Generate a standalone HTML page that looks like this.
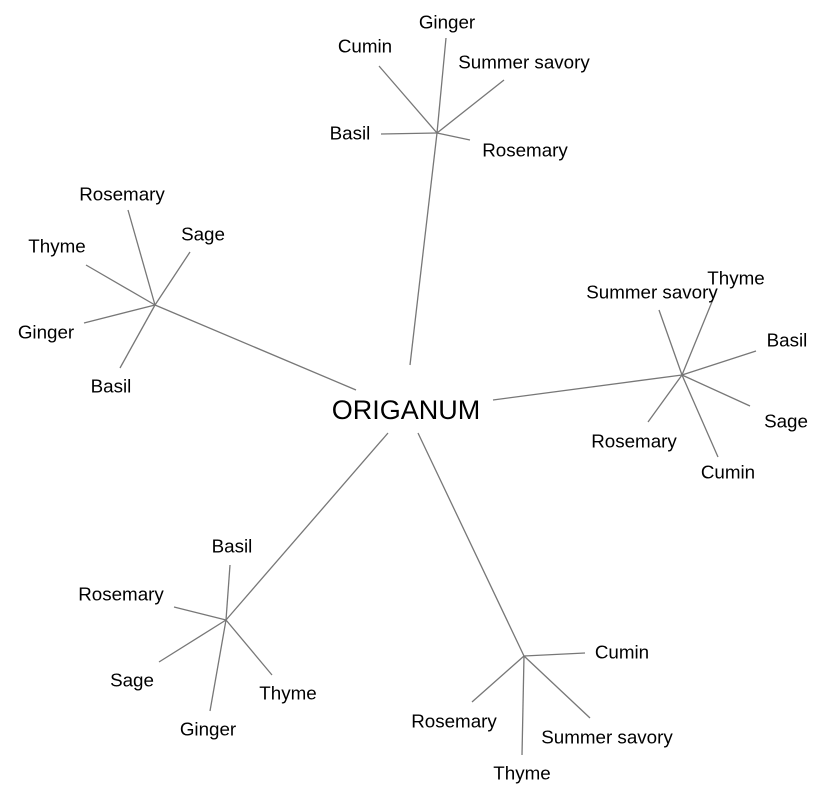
<!DOCTYPE html>
<html><head><meta charset="utf-8"><style>
html,body{margin:0;padding:0;background:#fff;}
svg{display:block}
text{font-family:"Liberation Sans",Arial,sans-serif;font-size:18.8px;fill:#000;text-anchor:middle;dominant-baseline:central}
line{stroke:#777;stroke-width:1.3}
</style></head><body>
<svg width="825" height="796" viewBox="0 0 825 796" xmlns="http://www.w3.org/2000/svg">
<line x1="410" y1="365" x2="437" y2="133"/>
<line x1="356" y1="390" x2="155" y2="305"/>
<line x1="493" y1="400" x2="682" y2="375"/>
<line x1="388" y1="433" x2="226" y2="620"/>
<line x1="418" y1="433" x2="524" y2="656"/>
<line x1="437" y1="133" x2="379" y2="66"/>
<line x1="437" y1="133" x2="446" y2="38"/>
<line x1="437" y1="133" x2="504" y2="80"/>
<line x1="437" y1="133" x2="381" y2="134"/>
<line x1="437" y1="133" x2="470" y2="140"/>
<line x1="155" y1="305" x2="128" y2="210"/>
<line x1="155" y1="305" x2="190" y2="252"/>
<line x1="155" y1="305" x2="86" y2="265"/>
<line x1="155" y1="305" x2="84" y2="323"/>
<line x1="155" y1="305" x2="120" y2="368"/>
<line x1="682" y1="375" x2="659" y2="310"/>
<line x1="682" y1="375" x2="716" y2="292"/>
<line x1="682" y1="375" x2="756" y2="351"/>
<line x1="682" y1="375" x2="750" y2="406"/>
<line x1="682" y1="375" x2="718" y2="457"/>
<line x1="682" y1="375" x2="648" y2="422"/>
<line x1="226" y1="620" x2="230" y2="565"/>
<line x1="226" y1="620" x2="174" y2="607"/>
<line x1="226" y1="620" x2="159" y2="662"/>
<line x1="226" y1="620" x2="210" y2="711"/>
<line x1="226" y1="620" x2="272" y2="675"/>
<line x1="524" y1="656" x2="585" y2="653"/>
<line x1="524" y1="656" x2="472" y2="702"/>
<line x1="524" y1="656" x2="522" y2="755"/>
<line x1="524" y1="656" x2="590" y2="718"/>

<text x="406" y="410" style="font-size:27px">ORIGANUM</text>

<text x="447" y="22">Ginger</text>
<text x="365" y="46">Cumin</text>
<text x="524" y="62">Summer savory</text>
<text x="350" y="133">Basil</text>
<text x="525" y="150">Rosemary</text>

<text x="122" y="194">Rosemary</text>
<text x="203" y="234">Sage</text>
<text x="57" y="246">Thyme</text>
<text x="46" y="332">Ginger</text>
<text x="111" y="386">Basil</text>

<text x="652" y="292">Summer savory</text>
<text x="736" y="278">Thyme</text>
<text x="787" y="340">Basil</text>
<text x="786" y="421">Sage</text>
<text x="728" y="472">Cumin</text>
<text x="634" y="441">Rosemary</text>

<text x="232" y="546">Basil</text>
<text x="121" y="594">Rosemary</text>
<text x="132" y="680">Sage</text>
<text x="208" y="729">Ginger</text>
<text x="288" y="693">Thyme</text>

<text x="622" y="652">Cumin</text>
<text x="454" y="721">Rosemary</text>
<text x="522" y="773">Thyme</text>
<text x="607" y="737">Summer savory</text>
</svg>
</body></html>
